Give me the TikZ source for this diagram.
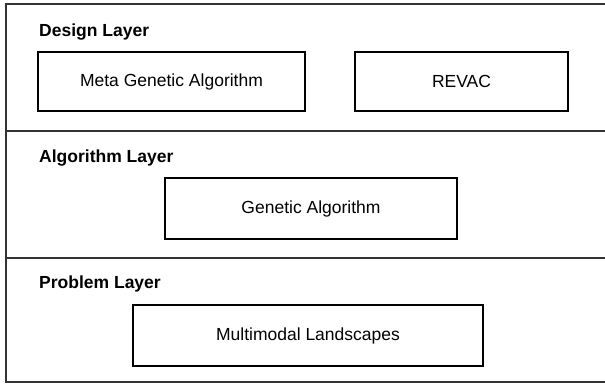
\documentclass[tikz,border=0pt]{standalone}
\usepackage{fontspec}
\setmainfont{Liberation Sans}
\usepackage{tikz}
\usetikzlibrary{positioning}

\begin{document}
\begin{tikzpicture}[x=1pt, y=-1pt,
                layer/.style = {anchor = base west, inner sep = 0pt, font = \fontsize{17.5}{21}\selectfont\bfseries},
                unit/.style = {draw = black, line width = 1.4pt, inner sep = 0pt, font = \fontsize{17.5}{21}\selectfont},
                frame/.style = {draw = black!80, line width = 1.3pt}]
                \useasboundingbox (0, 0) rectangle (605, 385);

                % outer frame and the two separators
                \draw [frame] (620, 4) -- (6, 4) -- (6, 382) -- (620, 382);
                \draw [frame] (6, 131) -- (620, 131);
                \draw [frame] (6, 258) -- (620, 258);

                \node (design) [layer] at (39, 37) { Design Layer };
                \node (algo) [layer] at (39, 163) { Algorithm Layer };
                \node (problem) [layer] at (39, 288) { Problem Layer };

                \node (meta) [unit, minimum width = 267pt, minimum height = 59pt] at (171.5, 81.5) { Meta Genetic Algorithm };
                \node (revac) [unit, minimum width = 213pt, minimum height = 59pt] at (461.5, 81.5) { REVAC };
                \node (ga) [unit, minimum width = 292pt, minimum height = 61pt] at (311, 208.5) { Genetic Algorithm };
                \node (land) [unit, minimum width = 350pt, minimum height = 61pt] at (308, 335.5) { Multimodal Landscapes };
            \end{tikzpicture}
\end{document}
